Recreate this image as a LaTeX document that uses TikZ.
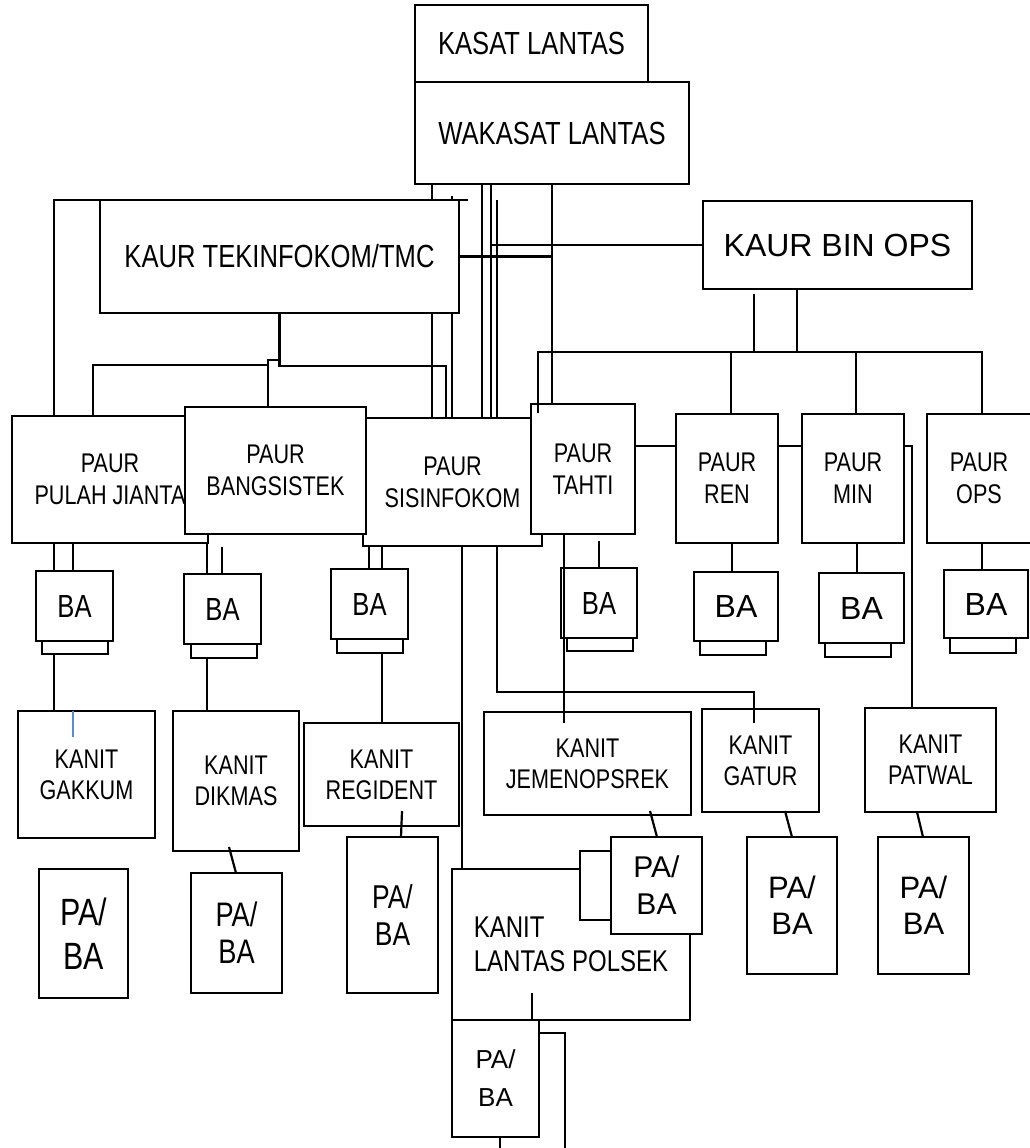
\documentclass[tikz,border=0pt]{standalone}
\usepackage{fontspec}
\setmainfont{Liberation Sans}[FakeStretch=0.8]
\newfontfamily\widefont{Liberation Sans}
\usetikzlibrary{backgrounds}

\definecolor{tickblue}{HTML}{5B8BD0}

\tikzset{
	unit/.style={draw, fill=white, line width=2.2pt, inner sep=0pt, outer sep=0pt, align=center},
	box/.style 2 args={unit, minimum width=#1, minimum height=#2},
	big/.style={font=\fontsize{32}{36}\selectfont},
	wide/.style={font=\widefont\fontsize{32}{36}\selectfont},
	paur/.style={font=\fontsize{27}{32}\selectfont},
	kanit/.style={font=\fontsize{27}{31}\selectfont},
	link/.style={line width=2.2pt},
}

\begin{document}
\begin{tikzpicture}[x=1pt, y=-1pt]
	\useasboundingbox (0,0) rectangle (1029,1148);

	\node[box={233}{77}, big] (kasat) at (531.5,43.5) {KASAT LANTAS};
	\node[box={274}{102}, big] (wakasat) at (552,133) {WAKASAT LANTAS};
	\node[box={359}{113}, big] (tekin) at (279.5,256.5) {KAUR TEKINFOKOM/TMC};
	\node[box={269}{88}, wide] (binops) at (837.5,245) {KAUR BIN OPS};

	\node[box={196}{127}, paur] (pulah) at (110,479.5) {PAUR\\PULAH JIANTA};
	\node[box={179}{128}, paur] (sisinfo) at (452.5,482) {PAUR\\SISINFOKOM};
	\node[box={181}{127}, paur] (bangsis) at (275.5,470.5) {PAUR\\BANGSISTEK};
	\node[box={104}{130}, paur] (tahti) at (583,469) {PAUR\\TAHTI};
	\node[box={102}{129}, paur] (ren) at (727,478.5) {PAUR\\REN};
	\node[box={102}{129}, paur] (min) at (853,478.5) {PAUR\\MIN};
	\node[box={104}{129}, paur] (ops) at (979,478.5) {PAUR\\OPS};

	\node[box={66}{13}] (ba1t) at (75,647.5) {};
	\node[box={77}{70}, big] (ba1) at (74.5,606) {BA};
	\node[box={66}{14}] (ba2t) at (224,651) {};
	\node[box={77}{70}, big] (ba2) at (222.5,609) {BA};
	\node[box={66}{14}] (ba3t) at (370,646) {};
	\node[box={77}{70}, big] (ba3) at (369.5,604) {BA};
	\node[box={66}{13}] (ba4t) at (600,644.5) {};
	\node[box={76}{70}, big] (ba4) at (599,603) {BA};
	\node[box={66}{14}] (ba5t) at (733,648) {};
	\node[box={84}{69}, wide] (ba5) at (736,606.5) {BA};
	\node[box={66}{14}] (ba6t) at (858,650) {};
	\node[box={85}{70}, wide] (ba6) at (861.5,608) {BA};
	\node[box={66}{15}] (ba7t) at (983,645.5) {};
	\node[box={84}{68}, wide] (ba7) at (986,604) {BA};

	\node[box={137}{127}, kanit] (gakkum) at (86.5,774.5) {KANIT\\GAKKUM};
	\node[box={126}{140}, kanit] (dikmas) at (236,781) {KANIT\\DIKMAS};
	\node[box={155}{103}, kanit] (regident) at (381.5,774.5) {KANIT\\REGIDENT};
	\node[box={207}{103}, kanit] (jemen) at (587.5,763.5) {KANIT\\JEMENOPSREK};
	\node[box={117}{103}, kanit] (gatur) at (760.5,760.5) {KANIT\\GATUR};
	\node[box={131}{104}, kanit] (patwal) at (930.5,760) {KANIT\\PATWAL};
	\node[box={238}{151}, font=\fontsize{30}{34}\selectfont, align=left] (polsek) at (571,944.5) {KANIT\\LANTAS POLSEK};

	\node[box={89}{129}, font=\fontsize{38}{44}\selectfont] (pb1) at (83.5,933.5) {PA/\\BA};
	\node[box={91}{120}, font=\fontsize{34}{37}\selectfont] (pb2) at (236.5,933) {PA/\\BA};
	\node[box={91}{156}, font=\fontsize{33}{37}\selectfont] (pb3) at (392.5,915) {PA/\\BA};
	\node[box={31}{69}] (pbjs) at (595.5,885.5) {};
	\node[box={91}{97}, font=\widefont\fontsize{30}{37}\selectfont] (pbj) at (656.5,885.5) {PA/\\BA};
	\node[box={90}{137}, font=\widefont\fontsize{31}{36}\selectfont] (pbg) at (792,905.5) {PA/\\BA};
	\node[box={91}{137}, font=\widefont\fontsize{31}{36}\selectfont] (pbp) at (923.5,905.5) {PA/\\BA};
	\node[box={87}{117}, font=\widefont\fontsize{26}{38}\selectfont] (pbpol) at (495.5,1078.5) {PA/\\BA};
	\coordinate (bottomend) at (565,1150);

	\begin{scope}[on background layer={link}]
		\draw (wakasat.south -| 432,0) -- (sisinfo.north -| 432,0);
		\draw (tekin.north -| 452,0) ++(0,-4) -- (sisinfo.north -| 452,0);
		\draw (wakasat.south -| 482,0) -- (sisinfo.north -| 482,0);
		\draw (wakasat.south -| 491,0) -- (sisinfo.north -| 491,0);
		\draw (tekin.north -| 497,0) -- (sisinfo.north -| 497,0);
		\draw (wakasat.south -| 552,0) -- (tahti.north -| 552,0);
		\draw (pulah.north -| 54,0) |- ([xshift=9pt]tekin.north east);
		\draw (tekin.east) -- (tekin.east -| 552,0);
		\draw (binops.west) -- (binops.west -| 492,0);
		\draw (tekin.south) -- ++(0,53) -| (sisinfo.north -| 446,0);
		\draw (pulah.north -| 93,0) |- (268,365);
		\draw (bangsis.north -| 268,0) |- (tekin.south |- 0,360);

		\draw (binops.south -| 797,0) -- (797,352);
		\draw (binops.south -| 754,0) ++(0,5) -- (754,352);
		\draw (ren.north -| 731,0) -- (731,352);
		\draw (min.north -| 856,0) -- (856,352);

		\draw (tahti.east |- 0,446) -- (ren.west |- 0,446);
		\draw (ren.east |- 0,446) -- (min.west |- 0,446);
		\draw (min.east |- 0,446) -| (patwal.north -| 912,0);

		\draw (pulah.south -| 54,0) -- (ba1.north -| 54,0);
		\draw (pulah.south -| 73,0) -- (ba1.north -| 73,0);
		\draw (ba1t.south -| 54,0) -- (gakkum.north -| 54,0);
		\draw (pulah.south -| 207,0) -- (ba2.north -| 207,0);
		\draw (bangsis.south -| 222,0) ++(0,13) -- (ba2.north -| 222,0);
		\draw (ba2t.south -| 207,0) -- (dikmas.north -| 207,0);
		\draw (sisinfo.south -| 369,0) -- (ba3.north -| 369,0);
		\draw (sisinfo.south -| 382,0) -- (ba3.north -| 382,0);
		\draw (ba3t.south -| 382,0) -- (regident.north -| 382,0);
		\draw (sisinfo.south -| 462,0) -- (polsek.north -| 462,0);
		\draw (tahti.south -| 599,0) ++(0,7) -- (ba4.north -| 599,0);
		\draw (ren.south -| 732,0) -- (ba5.north -| 732,0);
		\draw (min.south -| 857,0) -- (ba6.north -| 857,0);
		\draw (ops.south -| 982,0) -- (ba7.north -| 982,0);
	\end{scope}

	\draw[link] (tahti.north -| 538,0) ++(0,9) |- (982,352) -- (ops.north -| 982,0);
	\draw[link] (jemen.north -| 564,0) ++(0,11) -- (tahti.south -| 564,0);
	\draw[link] (gatur.north -| 754,0) ++(0,14) -- ++(0,-31) -| (sisinfo.south -| 497,0);
	\draw[tickblue, line width=1.5pt] (gakkum.north -| 73,0) -- ++(0,26);

	\draw[link] (dikmas.south -| 229,0) ++(0,-4) -- (pb2.north -| 236,0);
	\draw[link] (regident.south -| 402,0) ++(0,-15) -- (pb3.north -| 401,0);
	\draw[link] (jemen.south -| 650,0) ++(0,-4) -- (pbj.north -| 657,0);
	\draw[link] (gatur.south -| 785,0) ++(0,-1) -- (pbg.north -| 792,0);
	\draw[link] (patwal.south -| 917,0) -- (pbp.north -| 923,0);
	\draw[link] (polsek.south -| 532,0) -- ++(0,-27);
	\draw[link] (pbpol.east |- 0,1033) -| (bottomend);
	\draw[link] (pbpol.south -| 500,0) -- ++(0,13);
\end{tikzpicture}
\end{document}
